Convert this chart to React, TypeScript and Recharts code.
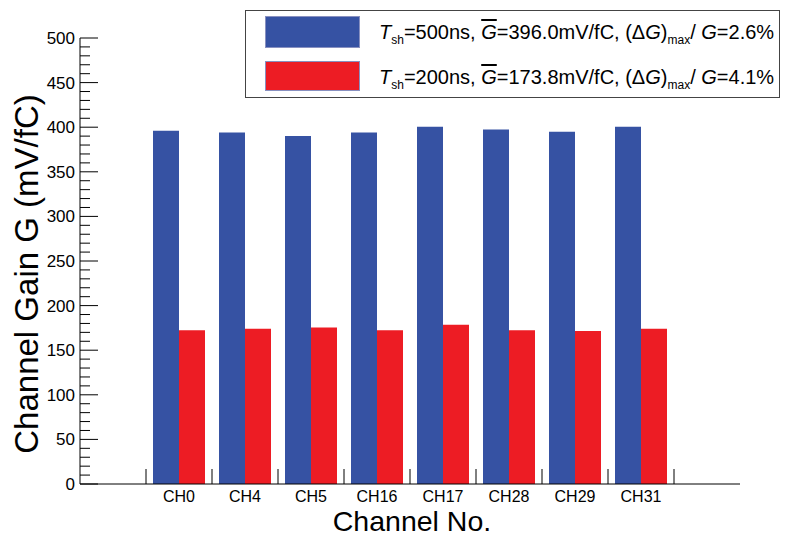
import React from 'react';
import { BarChart, Bar, XAxis, YAxis, Legend } from 'recharts';

const channels = ['CH0', 'CH4', 'CH5', 'CH16', 'CH17', 'CH28', 'CH29', 'CH31'];
const gain500 = [396, 394, 390, 394, 400.5, 397.5, 395, 400.5];
const gain200 = [172.5, 174, 175.5, 172.5, 178.5, 172.5, 171.5, 174];
const yMajorTicks = [0, 50, 100, 150, 200, 250, 300, 350, 400, 450, 500];
const yMinorStep = 10;

const seriesNames = ['g500', 'g200'];
const seriesColors = ['#3652A3', '#ED1C24'];
const legendTsh = ['500', '200'];
const legendMeanG = ['396.0', '173.8'];
const legendSpread = ['2.6', '4.1'];

const data = channels.map((c, i) => ({ ch: c, g500: gain500[i], g200: gain200[i] }));
const yTicks: number[] = [];
for (let v = yMajorTicks[0]; v <= yMajorTicks[yMajorTicks.length - 1]; v += yMinorStep) yTicks.push(v);

const W = 785;
const H = 537;
const M_TOP = 38;
const M_RIGHT = 45;
const Y_AXIS_W = 80;
const X_AXIS_H = 53;
const X_PAD = 66;
const PLOT_W = W - M_RIGHT - Y_AXIS_W;
const BAND = (PLOT_W - 2 * X_PAD) / channels.length;
const FONT = '"Liberation Sans", Arial, Helvetica, sans-serif';

const XTick = (props: any) => {
  const { x, y, payload } = props;
  const half = BAND / 2;
  const isLast = payload && payload.value === channels[channels.length - 1];
  return (
    <g>
      <line x1={x - half} x2={x - half} y1={y} y2={y - 15} stroke="#000" strokeWidth={1} />
      {isLast && <line x1={x + half} x2={x + half} y1={y} y2={y - 15} stroke="#000" strokeWidth={1} />}
      <text x={x} y={y + 18} textAnchor="middle" fontSize={16} fontFamily={FONT} fill="#000">
        {payload.value}
      </text>
    </g>
  );
};

const YTick = (props: any) => {
  const { x, y, payload } = props;
  const major = yMajorTicks.includes(payload.value);
  return (
    <g>
      <line x1={x} x2={x + (major ? 18 : 10)} y1={y} y2={y} stroke="#000" strokeWidth={1} />
      {major && (
        <text x={x - 5} y={y} dy="0.35em" textAnchor="end" fontSize={17} fontFamily={FONT} fill="#000">
          {payload.value}
        </text>
      )}
    </g>
  );
};

const YLabel = (props: any) => {
  const vb = props.viewBox || { x: 0, y: M_TOP, width: Y_AXIS_W, height: 446 };
  const cx = vb.x + 38;
  const cy = vb.y + 236;
  return (
    <text
      x={cx}
      y={cy}
      transform={`rotate(-90 ${cx} ${cy})`}
      textAnchor="middle"
      fontSize={33}
      fontFamily={FONT}
      fill="#000"
    >
      Channel Gain G (mV/fC)
    </text>
  );
};

const XLabel = (props: any) => {
  const vb = props.viewBox || { x: Y_AXIS_W, y: 484, width: PLOT_W, height: X_AXIS_H };
  const cx = vb.x + vb.width / 2 + 2;
  const cy = vb.y + 47;
  return (
    <text x={cx} y={cy} textAnchor="middle" fontSize={28.5} fontFamily={FONT} fill="#000">
      Channel No.
    </text>
  );
};

const LegendBox = () => (
  <div
    style={{
      width: 535,
      height: 88,
      boxSizing: 'border-box',
      border: '1.5px solid #444',
      background: '#fff',
      position: 'relative',
      fontFamily: FONT,
      color: '#000',
    }}
  >
    {seriesNames.map((s, i) => (
      <React.Fragment key={s}>
        <div
          style={{
            position: 'absolute',
            left: 19,
            top: i === 0 ? 5 : 50,
            width: 95,
            height: i === 0 ? 32 : 30,
            background: seriesColors[i],
            boxSizing: 'border-box',
            border: '1px solid #8890c0',
          }}
        />
        <div
          style={{
            position: 'absolute',
            left: 133,
            top: i === 0 ? 9 : 54,
            fontSize: 20,
            lineHeight: '24px',
            whiteSpace: 'nowrap',
          }}
        >
          <i>T</i>
          <sub style={{ fontSize: 12 }}>sh</sub>={legendTsh[i]}ns,{' '}
          <i style={{ textDecoration: 'overline' }}>G</i>={legendMeanG[i]}mV/fC, (Δ<i>G</i>)
          <sub style={{ fontSize: 12 }}>max</sub>/ <i>G</i>={legendSpread[i]}%
        </div>
      </React.Fragment>
    ))}
  </div>
);

export default function App() {
  return (
    <div style={{ position: 'absolute', left: 0, top: 0, width: W, height: H, background: '#fff' }}>
      <BarChart
        width={W}
        height={H}
        data={data}
        margin={{ top: M_TOP, right: M_RIGHT, left: 0, bottom: 0 }}
        barCategoryGap={7}
        barGap={0}
      >
        <XAxis
          dataKey="ch"
          height={X_AXIS_H}
          padding={{ left: X_PAD, right: X_PAD }}
          tickLine={false}
          tickSize={0}
          tickMargin={0}
          axisLine={{ stroke: '#000', strokeWidth: 1 }}
          tick={<XTick />}
          interval={0}
          label={<XLabel />}
        />
        <XAxis
          xAxisId="top"
          orientation="top"
          height={0}
          tick={false}
          tickLine={false}
          axisLine={{ stroke: '#000', strokeWidth: 1 }}
        />
        <YAxis
          width={Y_AXIS_W}
          domain={[yMajorTicks[0], yMajorTicks[yMajorTicks.length - 1]]}
          ticks={yTicks}
          interval={0}
          tickLine={false}
          tickSize={0}
          tickMargin={0}
          axisLine={{ stroke: '#000', strokeWidth: 1 }}
          tick={<YTick />}
          label={<YLabel />}
          allowDataOverflow
        />
        <YAxis
          yAxisId="right"
          orientation="right"
          width={0}
          tick={false}
          tickLine={false}
          axisLine={{ stroke: '#000', strokeWidth: 1 }}
        />
        <Legend
          layout="horizontal"
          verticalAlign="middle"
          align="center"
          content={<LegendBox />}
          wrapperStyle={{ position: 'absolute', left: 245, top: 10, width: 535, height: 88 }}
        />
        <Bar dataKey="g500" fill={seriesColors[0]} isAnimationActive={false} />
        <Bar dataKey="g200" fill={seriesColors[1]} isAnimationActive={false} />
      </BarChart>
    </div>
  );
}
